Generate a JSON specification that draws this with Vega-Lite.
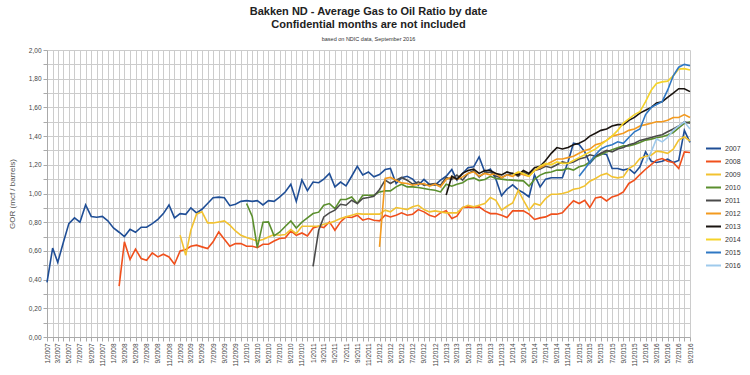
{
"$schema": "https://vega.github.io/schema/vega-lite/v6.json",
"width": 643, "height": 287,
"autosize": {"type": "none"},
"padding": {"left": 47, "top": 50, "right": 60, "bottom": 38},
"background": "white",
"title": {"text": ["Bakken ND - Average Gas to Oil Ratio by date", "Confidential months are not included"], "subtitle": "based on NDIC data, September 2016", "font": "Liberation Sans", "fontSize": 11, "fontWeight": "bold", "lineHeight": 13, "color": "#222", "subtitleFont": "Liberation Sans", "subtitleFontSize": 5.5, "subtitleColor": "#333", "subtitlePadding": 7, "anchor": "middle", "frame": "group", "offset": 5},
"data": {"values": [
{"d":"2007-01","2007":0.38},{"d":"2007-02","2007":0.62},{"d":"2007-03","2007":0.52},{"d":"2007-04","2007":0.66},{"d":"2007-05","2007":0.79},{"d":"2007-06","2007":0.83},{"d":"2007-07","2007":0.80},{"d":"2007-08","2007":0.92},{"d":"2007-09","2007":0.84},{"d":"2007-10","2007":0.835},{"d":"2007-11","2007":0.84},{"d":"2007-12","2007":0.81},
{"d":"2008-01","2007":0.76},{"d":"2008-02","2007":0.73,"2008":0.354},{"d":"2008-03","2007":0.70,"2008":0.663},{"d":"2008-04","2007":0.75,"2008":0.54},{"d":"2008-05","2007":0.73,"2008":0.612},{"d":"2008-06","2007":0.765,"2008":0.547},{"d":"2008-07","2007":0.765,"2008":0.535},{"d":"2008-08","2007":0.79,"2008":0.586},{"d":"2008-09","2007":0.82,"2008":0.558},{"d":"2008-10","2007":0.86,"2008":0.577},{"d":"2008-11","2007":0.92,"2008":0.558},{"d":"2008-12","2007":0.83,"2008":0.507},
{"d":"2009-01","2007":0.86,"2008":0.60,"2009":0.71},{"d":"2009-02","2007":0.855,"2008":0.61,"2009":0.57},{"d":"2009-03","2007":0.90,"2008":0.632,"2009":0.744},{"d":"2009-04","2007":0.865,"2008":0.64,"2009":0.856},{"d":"2009-05","2007":0.89,"2008":0.628,"2009":0.872},{"d":"2009-06","2007":0.93,"2008":0.616,"2009":0.795},{"d":"2009-07","2007":0.97,"2008":0.663,"2009":0.795},{"d":"2009-08","2007":0.975,"2008":0.732,"2009":0.802},{"d":"2009-09","2007":0.97,"2008":0.681,"2009":0.809},{"d":"2009-10","2007":0.915,"2008":0.632,"2009":0.779},{"d":"2009-11","2007":0.925,"2008":0.651,"2009":0.739},{"d":"2009-12","2007":0.945,"2008":0.651,"2009":0.709},
{"d":"2010-01","2007":0.95,"2008":0.632,"2009":0.693,"2010":0.93},{"d":"2010-02","2007":0.945,"2008":0.632,"2009":0.681,"2010":0.84},{"d":"2010-03","2007":0.95,"2008":0.623,"2009":0.669,"2010":0.623},{"d":"2010-04","2007":0.92,"2008":0.646,"2009":0.679,"2010":0.80},{"d":"2010-05","2007":0.95,"2008":0.646,"2009":0.697,"2010":0.802},{"d":"2010-06","2007":0.945,"2008":0.669,"2009":0.714,"2010":0.705},{"d":"2010-07","2007":0.975,"2008":0.686,"2009":0.709,"2010":0.73},{"d":"2010-08","2007":1.01,"2008":0.69,"2009":0.714,"2010":0.77},{"d":"2010-09","2007":1.065,"2008":0.739,"2009":0.749,"2010":0.809},{"d":"2010-10","2007":0.945,"2008":0.709,"2009":0.721,"2010":0.76},{"d":"2010-11","2007":1.095,"2008":0.725,"2009":0.772,"2010":0.80},{"d":"2010-12","2007":1.02,"2008":0.704,"2009":0.772,"2010":0.83},
{"d":"2011-01","2007":1.08,"2008":0.76,"2009":0.772,"2010":0.86,"2011":0.493},{"d":"2011-02","2007":1.075,"2008":0.772,"2009":0.772,"2010":0.87,"2011":0.744},{"d":"2011-03","2007":1.10,"2008":0.763,"2009":0.786,"2010":0.918,"2011":0.837},{"d":"2011-04","2007":1.14,"2008":0.802,"2009":0.795,"2010":0.93,"2011":0.865},{"d":"2011-05","2007":1.046,"2008":0.744,"2009":0.809,"2010":0.895,"2011":0.884},{"d":"2011-06","2007":1.08,"2008":0.802,"2009":0.826,"2010":0.958,"2011":0.925},{"d":"2011-07","2007":1.053,"2008":0.837,"2009":0.837,"2010":0.958,"2011":0.918},{"d":"2011-08","2007":1.12,"2008":0.833,"2009":0.849,"2010":0.976,"2011":0.953},{"d":"2011-09","2007":1.19,"2008":0.849,"2009":0.86,"2010":0.93,"2011":0.93},{"d":"2011-10","2007":1.13,"2008":0.814,"2009":0.856,"2010":0.988,"2011":0.965},{"d":"2011-11","2007":1.15,"2008":0.826,"2009":0.856,"2010":0.988,"2011":0.972},{"d":"2011-12","2007":1.116,"2008":0.814,"2009":0.856,"2010":0.988,"2011":0.981},
{"d":"2012-01","2007":1.132,"2008":0.809,"2009":0.856,"2010":1.011,"2011":1.028,"2012":0.628},{"d":"2012-02","2007":1.167,"2008":0.849,"2009":0.884,"2010":1.018,"2011":1.093,"2012":1.105},{"d":"2012-03","2007":1.174,"2008":0.837,"2009":0.872,"2010":1.018,"2011":1.07,"2012":1.112},{"d":"2012-04","2007":1.07,"2008":0.849,"2009":0.902,"2010":1.046,"2011":1.093,"2012":1.093},{"d":"2012-05","2007":1.11,"2008":0.865,"2009":0.895,"2010":1.065,"2011":1.112,"2012":1.074},{"d":"2012-06","2007":1.12,"2008":0.849,"2009":0.888,"2010":1.046,"2011":1.093,"2012":1.07},{"d":"2012-07","2007":1.10,"2008":0.856,"2009":0.907,"2010":1.046,"2011":1.065,"2012":1.058},{"d":"2012-08","2007":1.058,"2008":0.888,"2009":0.918,"2010":1.042,"2011":1.081,"2012":1.065},{"d":"2012-09","2007":1.098,"2008":0.872,"2009":0.888,"2010":1.035,"2011":1.058,"2012":1.07},{"d":"2012-10","2007":1.063,"2008":0.849,"2009":0.872,"2010":1.028,"2011":1.065,"2012":1.051},{"d":"2012-11","2007":1.058,"2008":0.837,"2009":0.879,"2010":1.023,"2011":1.07,"2012":1.065},{"d":"2012-12","2007":1.093,"2008":0.865,"2009":0.872,"2010":1.011,"2011":1.058,"2012":1.046},
{"d":"2013-01","2007":1.12,"2008":0.88,"2009":0.865,"2010":1.065,"2011":1.112,"2012":1.098,"2013":0.99},{"d":"2013-02","2007":1.167,"2008":0.826,"2009":0.865,"2010":1.051,"2011":1.098,"2012":1.116,"2013":1.12},{"d":"2013-03","2007":1.093,"2008":0.842,"2009":0.865,"2010":1.065,"2011":1.128,"2012":1.098,"2013":1.10},{"d":"2013-04","2007":1.14,"2008":0.902,"2009":0.902,"2010":1.075,"2011":1.093,"2012":1.116,"2013":1.14},{"d":"2013-05","2007":1.18,"2008":0.907,"2009":0.918,"2010":1.10,"2011":1.14,"2012":1.14,"2013":1.16},{"d":"2013-06","2007":1.186,"2008":0.902,"2009":0.907,"2010":1.109,"2011":1.158,"2012":1.151,"2013":1.17},{"d":"2013-07","2007":1.255,"2008":0.907,"2009":0.918,"2010":1.09,"2011":1.116,"2012":1.121,"2013":1.14},{"d":"2013-08","2007":1.15,"2008":0.879,"2009":0.93,"2010":1.098,"2011":1.144,"2012":1.14,"2013":1.16},{"d":"2013-09","2007":1.17,"2008":0.86,"2009":0.972,"2010":1.12,"2011":1.15,"2012":1.13,"2013":1.16},{"d":"2013-10","2007":1.10,"2008":0.86,"2009":0.953,"2010":1.105,"2011":1.12,"2012":1.14,"2013":1.14},{"d":"2013-11","2007":0.985,"2008":0.849,"2009":0.884,"2010":1.10,"2011":1.11,"2012":1.11,"2013":1.13},{"d":"2013-12","2007":1.03,"2008":0.833,"2009":0.911,"2010":1.095,"2011":1.13,"2012":1.13,"2013":1.15},
{"d":"2014-01","2007":1.06,"2008":0.879,"2009":0.934,"2010":1.093,"2011":1.14,"2012":1.12,"2013":1.14,"2014":1.13},{"d":"2014-02","2007":1.025,"2008":0.879,"2009":1.023,"2010":1.09,"2011":1.12,"2012":1.14,"2013":1.13,"2014":1.15},{"d":"2014-03","2007":1.005,"2008":0.879,"2009":0.953,"2010":1.088,"2011":1.15,"2012":1.13,"2013":1.16,"2014":1.14},{"d":"2014-04","2007":0.976,"2008":0.856,"2009":0.884,"2010":1.051,"2011":1.13,"2012":1.12,"2013":1.14,"2014":1.12},{"d":"2014-05","2007":1.13,"2008":0.819,"2009":0.93,"2010":1.098,"2011":1.16,"2012":1.16,"2013":1.18,"2014":1.16},{"d":"2014-06","2007":1.046,"2008":0.83,"2009":0.918,"2010":1.128,"2011":1.17,"2012":1.18,"2013":1.19,"2014":1.19},{"d":"2014-07","2007":1.10,"2008":0.837,"2009":0.965,"2010":1.144,"2011":1.19,"2012":1.20,"2013":1.23,"2014":1.21},{"d":"2014-08","2007":1.11,"2008":0.856,"2009":0.995,"2010":1.15,"2011":1.18,"2012":1.22,"2013":1.28,"2014":1.20},{"d":"2014-09","2007":1.11,"2008":0.856,"2009":0.995,"2010":1.163,"2011":1.20,"2012":1.24,"2013":1.32,"2014":1.22},{"d":"2014-10","2007":1.11,"2008":0.865,"2009":1.0,"2010":1.163,"2011":1.22,"2012":1.24,"2013":1.31,"2014":1.21},{"d":"2014-11","2007":1.22,"2008":0.91,"2009":1.011,"2010":1.175,"2011":1.21,"2012":1.25,"2013":1.32,"2014":1.21},{"d":"2014-12","2007":1.35,"2008":0.95,"2009":1.03,"2010":1.163,"2011":1.22,"2012":1.26,"2013":1.34,"2014":1.23},
{"d":"2015-01","2007":1.342,"2008":0.93,"2009":1.037,"2010":1.186,"2011":1.24,"2012":1.28,"2013":1.35,"2014":1.25,"2015":1.12},{"d":"2015-02","2007":1.29,"2008":0.953,"2009":1.053,"2010":1.197,"2011":1.25,"2012":1.30,"2013":1.37,"2014":1.27,"2015":1.17},{"d":"2015-03","2007":1.21,"2008":0.902,"2009":1.086,"2010":1.22,"2011":1.27,"2012":1.31,"2013":1.40,"2014":1.29,"2015":1.22},{"d":"2015-04","2007":1.255,"2008":0.969,"2009":1.105,"2010":1.255,"2011":1.26,"2012":1.34,"2013":1.42,"2014":1.31,"2015":1.27},{"d":"2015-05","2007":1.279,"2008":0.976,"2009":1.128,"2010":1.27,"2011":1.28,"2012":1.35,"2013":1.44,"2014":1.34,"2015":1.31},{"d":"2015-06","2007":1.272,"2008":0.948,"2009":1.14,"2010":1.29,"2011":1.30,"2012":1.37,"2013":1.45,"2014":1.37,"2015":1.33},{"d":"2015-07","2007":1.174,"2008":0.976,"2009":1.116,"2010":1.305,"2011":1.29,"2012":1.40,"2013":1.47,"2014":1.40,"2015":1.34},{"d":"2015-08","2007":1.174,"2008":0.988,"2009":1.109,"2010":1.318,"2011":1.31,"2012":1.41,"2013":1.48,"2014":1.44,"2015":1.36},{"d":"2015-09","2007":1.163,"2008":1.011,"2009":1.116,"2010":1.332,"2011":1.32,"2012":1.42,"2013":1.48,"2014":1.49,"2015":1.35},{"d":"2015-10","2007":1.174,"2008":1.07,"2009":1.174,"2010":1.332,"2011":1.34,"2012":1.44,"2013":1.51,"2014":1.52,"2015":1.39},{"d":"2015-11","2007":1.14,"2008":1.093,"2009":1.197,"2010":1.342,"2011":1.35,"2012":1.45,"2013":1.53,"2014":1.55,"2015":1.43},{"d":"2015-12","2007":1.186,"2008":1.132,"2009":1.244,"2010":1.356,"2011":1.37,"2012":1.47,"2013":1.56,"2014":1.57,"2015":1.45},
{"d":"2016-01","2007":1.29,"2008":1.169,"2009":1.26,"2010":1.372,"2011":1.38,"2012":1.48,"2013":1.58,"2014":1.64,"2015":1.55,"2016":1.21},{"d":"2016-02","2007":1.225,"2008":1.202,"2009":1.267,"2010":1.379,"2011":1.39,"2012":1.49,"2013":1.60,"2014":1.72,"2015":1.60,"2016":1.29},{"d":"2016-03","2007":1.216,"2008":1.232,"2009":1.295,"2010":1.388,"2011":1.40,"2012":1.50,"2013":1.63,"2014":1.767,"2015":1.62,"2016":1.38},{"d":"2016-04","2007":1.225,"2008":1.244,"2009":1.29,"2010":1.395,"2011":1.41,"2012":1.50,"2013":1.64,"2014":1.778,"2015":1.64,"2016":1.36},{"d":"2016-05","2007":1.239,"2008":1.225,"2009":1.28,"2010":1.407,"2011":1.43,"2012":1.51,"2013":1.67,"2014":1.783,"2015":1.72,"2016":1.39},{"d":"2016-06","2007":1.216,"2008":1.216,"2009":1.309,"2010":1.425,"2011":1.45,"2012":1.53,"2013":1.70,"2014":1.82,"2015":1.82,"2016":1.44},{"d":"2016-07","2007":1.23,"2008":1.174,"2009":1.372,"2010":1.458,"2011":1.47,"2012":1.53,"2013":1.73,"2014":1.867,"2015":1.88,"2016":1.47},{"d":"2016-08","2007":1.44,"2008":1.29,"2009":1.395,"2010":1.488,"2011":1.50,"2012":1.55,"2013":1.73,"2014":1.87,"2015":1.90,"2016":1.50},{"d":"2016-09","2007":1.356,"2008":1.286,"2009":1.365,"2010":1.50,"2011":1.49,"2012":1.53,"2013":1.71,"2014":1.86,"2015":1.89,"2016":1.45}
], "format": {"parse": {"d": "utc:'%Y-%m'"}}},
"transform": [
{"fold": ["2007","2008","2009","2010","2011","2012","2013","2014","2015","2016"], "as": ["series","gor"]},
{"filter": "isValid(datum.gor)"}
],
"mark": {"type": "line", "strokeWidth": 1.6},
"encoding": {
"x": {"field": "d", "type": "temporal",
 "scale": {"type": "utc", "domain": [{"year": 2007, "month": 1, "date": 1, "utc": true}, {"year": 2016, "month": 9, "date": 1, "utc": true}], "nice": false},
 "axis": {"title": null, "tickCount": {"interval": "month", "step": 1}, "labelExpr": "utcmonth(datum.value) % 2 == 0 ? (utcmonth(datum.value) + 1) + '/' + utcyear(datum.value) : ''", "labelAngle": 270, "labelAlign": "right", "labelBaseline": "middle", "labelFontSize": 6.5, "labelFont": "Liberation Sans", "labelColor": "#444", "labelOverlap": false, "labelBound": false, "labelFlush": false, "labelPadding": 2, "grid": true, "gridColor": "#cccccc", "gridWidth": 1, "tickColor": "#aaa", "tickSize": 4, "domainColor": "#aaa"}},
"y": {"field": "gor", "type": "quantitative",
 "scale": {"domain": [0, 2], "nice": false},
 "axis": {"title": "GOR (mcf / barrels)", "values": [0,0.1,0.2,0.3,0.4,0.5,0.6,0.7,0.8,0.9,1.0,1.1,1.2,1.3,1.4,1.5,1.6,1.7,1.8,1.9,2.0], "labelExpr": "round(datum.value * 10) % 2 == 0 ? replace(format(datum.value, '.2f'), '.', ',') : ''", "labelFontSize": 6.5, "labelFont": "Liberation Sans", "labelColor": "#444", "titleFont": "Liberation Sans", "titleFontSize": 8, "titleFontWeight": "normal", "titleColor": "#555", "titlePadding": 12, "grid": true, "gridColor": "#cccccc", "gridWidth": 1, "tickColor": "#aaa", "tickSize": 4, "domainColor": "#aaa"}},
"color": {"field": "series", "type": "nominal",
 "scale": {"domain": ["2007","2008","2009","2010","2011","2012","2013","2014","2015","2016"], "range": ["#1f4e96","#f0501c","#f2c230","#5b8f2e","#4a4a4a","#f39a1f","#1a1410","#f5d32a","#2f78c4","#9fcaec"]},
 "legend": {"title": null, "orient": "none", "legendX": 658, "legendY": 90, "symbolType": "stroke", "symbolStrokeWidth": 2, "symbolSize": 225, "labelFontSize": 7, "labelFont": "Liberation Sans", "labelColor": "#333", "rowPadding": 0, "labelOffset": 3}}
},
"config": {"view": {"stroke": null}}
}
